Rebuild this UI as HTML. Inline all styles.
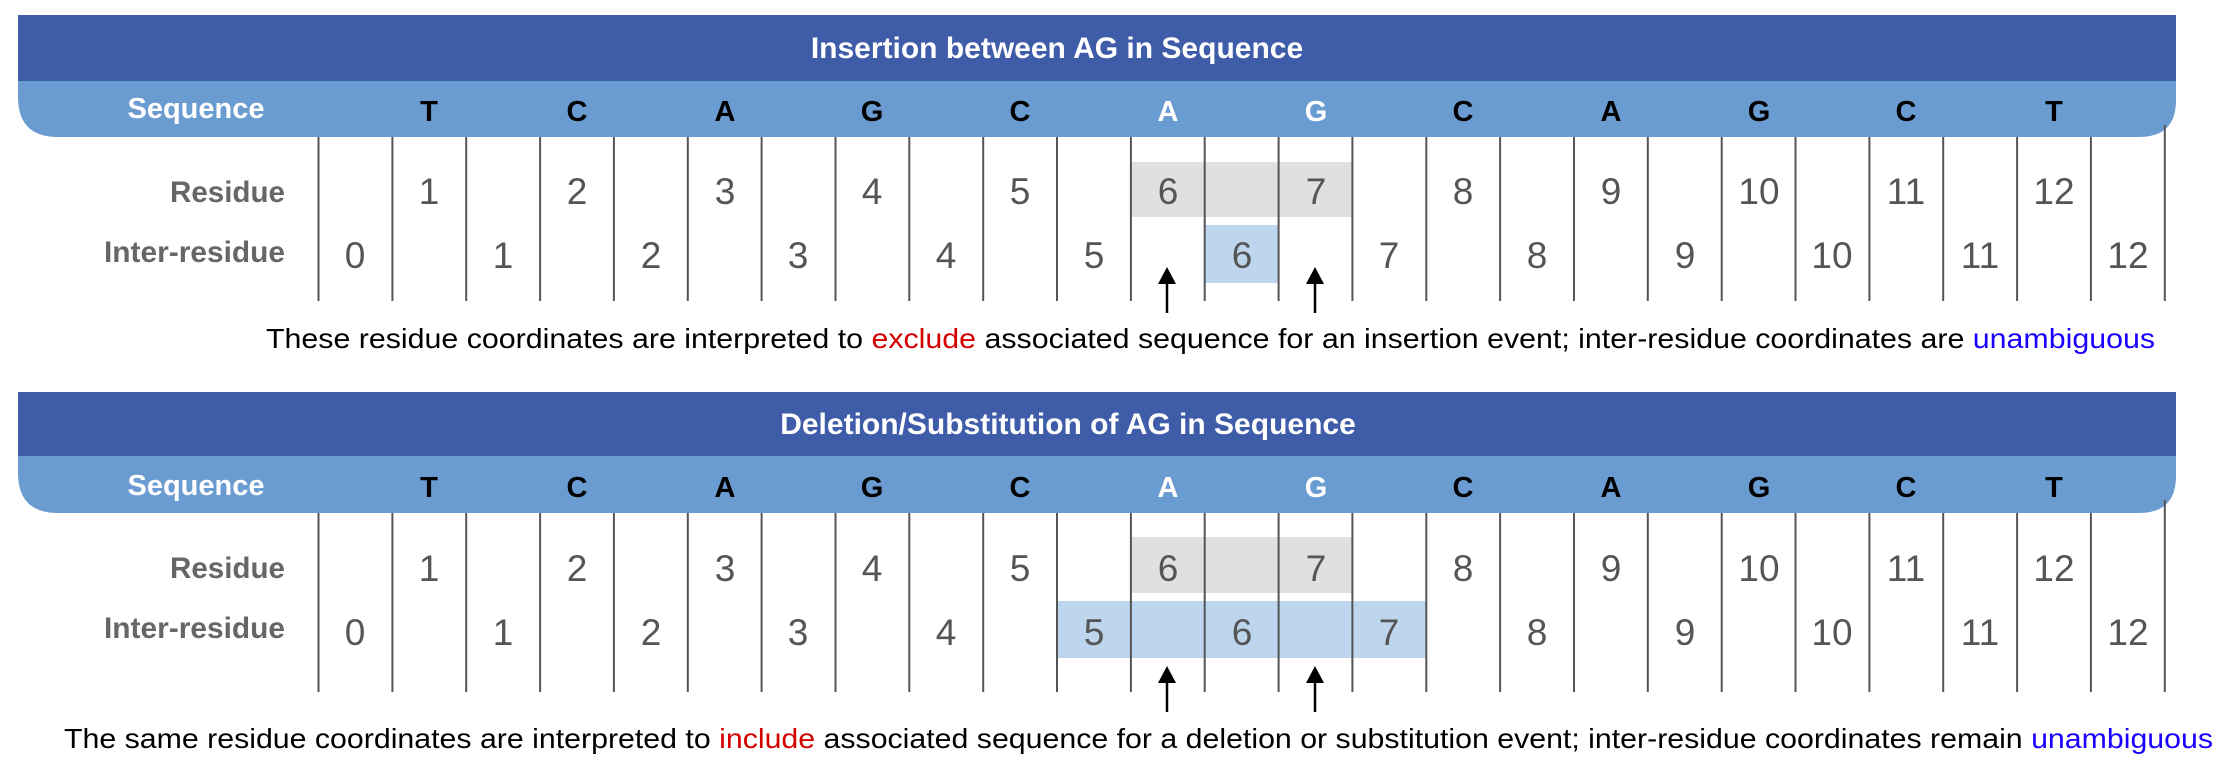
<!DOCTYPE html>
<html><head><meta charset="utf-8"><style>
html,body{margin:0;padding:0;background:#fff;}
svg{display:block;}
text{font-family:"Liberation Sans",Arial,sans-serif;}
</style></head><body>
<svg width="2220" height="780" viewBox="0 0 2220 780" xmlns="http://www.w3.org/2000/svg">
<defs>
<g id="arr"><line x1="0" y1="14" x2="0" y2="46" stroke="#000" stroke-width="2.5"/><polygon points="0,0 -9,17 9,17" fill="#000"/></g>
</defs>

<!-- ============ PANEL 1 ============ -->
<rect x="18" y="15" width="2158" height="67" fill="#3e5ca8"/>
<path d="M18 81 H2176 V100 Q2176 137 2139 137 H58 Q18 137 18 97 Z" fill="#6a9bd1"/>
<text x="1057" y="58" font-size="30" font-weight="bold" fill="#fff" text-anchor="middle">Insertion between AG in Sequence</text>
<text x="196" y="118" font-size="29" font-weight="bold" fill="#fff" text-anchor="middle">Sequence</text>
<g font-size="29" font-weight="bold" text-anchor="middle" fill="#000">
<text x="429" y="121">T</text><text x="577" y="121">C</text><text x="725" y="121">A</text><text x="872" y="121">G</text><text x="1020" y="121">C</text><text x="1168" y="121" fill="#fff">A</text><text x="1316" y="121" fill="#fff">G</text><text x="1463" y="121">C</text><text x="1611" y="121">A</text><text x="1759" y="121">G</text><text x="1906" y="121">C</text><text x="2054" y="121">T</text>
</g>
<rect x="1131" y="162" width="222" height="55" fill="#e0e0e0"/>
<rect x="1205" y="225" width="74" height="58" fill="#bdd6ed"/>
<g stroke="#555" stroke-width="2">
<line x1="318.5" y1="137" x2="318.5" y2="301"/><line x1="392.4" y1="137" x2="392.4" y2="301"/><line x1="466.2" y1="137" x2="466.2" y2="301"/><line x1="540.1" y1="137" x2="540.1" y2="301"/><line x1="613.9" y1="137" x2="613.9" y2="301"/><line x1="687.8" y1="137" x2="687.8" y2="301"/><line x1="761.6" y1="137" x2="761.6" y2="301"/><line x1="835.5" y1="137" x2="835.5" y2="301"/><line x1="909.3" y1="137" x2="909.3" y2="301"/><line x1="983.2" y1="137" x2="983.2" y2="301"/><line x1="1057" y1="137" x2="1057" y2="301"/><line x1="1130.9" y1="137" x2="1130.9" y2="301"/><line x1="1204.7" y1="137" x2="1204.7" y2="301"/><line x1="1278.6" y1="137" x2="1278.6" y2="301"/><line x1="1352.4" y1="137" x2="1352.4" y2="301"/><line x1="1426.3" y1="137" x2="1426.3" y2="301"/><line x1="1500.1" y1="137" x2="1500.1" y2="301"/><line x1="1574" y1="137" x2="1574" y2="301"/><line x1="1647.8" y1="137" x2="1647.8" y2="301"/><line x1="1721.7" y1="137" x2="1721.7" y2="301"/><line x1="1795.5" y1="137" x2="1795.5" y2="301"/><line x1="1869.4" y1="137" x2="1869.4" y2="301"/><line x1="1943.2" y1="137" x2="1943.2" y2="301"/><line x1="2017.1" y1="137" x2="2017.1" y2="301"/><line x1="2090.9" y1="137" x2="2090.9" y2="301"/><line x1="2164.8" y1="125" x2="2164.8" y2="301"/>
</g>
<text x="285" y="202" font-size="30" font-weight="bold" fill="#666" text-anchor="end" textLength="115" lengthAdjust="spacingAndGlyphs">Residue</text>
<text x="285" y="262" font-size="30" font-weight="bold" fill="#666" text-anchor="end" textLength="181" lengthAdjust="spacingAndGlyphs">Inter-residue</text>
<g font-size="37" fill="#555" text-anchor="middle">
<text x="429" y="204">1</text><text x="577" y="204">2</text><text x="725" y="204">3</text><text x="872" y="204">4</text><text x="1020" y="204">5</text><text x="1168" y="204">6</text><text x="1316" y="204">7</text><text x="1463" y="204">8</text><text x="1611" y="204">9</text><text x="1759" y="204">10</text><text x="1906" y="204">11</text><text x="2054" y="204">12</text>
<text x="355" y="268">0</text><text x="503" y="268">1</text><text x="651" y="268">2</text><text x="798" y="268">3</text><text x="946" y="268">4</text><text x="1094" y="268">5</text><text x="1242" y="268">6</text><text x="1389" y="268">7</text><text x="1537" y="268">8</text><text x="1685" y="268">9</text><text x="1832" y="268">10</text><text x="1980" y="268">11</text><text x="2128" y="268">12</text>
</g>
<use href="#arr" x="1167" y="267"/><use href="#arr" x="1315" y="267"/>
<text x="266" y="348" font-size="28" fill="#000" textLength="1889" lengthAdjust="spacingAndGlyphs">These residue coordinates are interpreted to <tspan fill="#d40000">exclude</tspan> associated sequence for an insertion event; inter-residue coordinates are <tspan fill="#1a00ff">unambiguous</tspan></text>

<!-- ============ PANEL 2 ============ -->
<rect x="18" y="392" width="2158" height="65" fill="#3e5ca8"/>
<path d="M18 456 H2176 V476 Q2176 513 2139 513 H58 Q18 513 18 473 Z" fill="#6a9bd1"/>
<text x="1068" y="434" font-size="30" font-weight="bold" fill="#fff" text-anchor="middle">Deletion/Substitution of AG in Sequence</text>
<text x="196" y="495" font-size="29" font-weight="bold" fill="#fff" text-anchor="middle">Sequence</text>
<g font-size="29" font-weight="bold" text-anchor="middle" fill="#000">
<text x="429" y="497">T</text><text x="577" y="497">C</text><text x="725" y="497">A</text><text x="872" y="497">G</text><text x="1020" y="497">C</text><text x="1168" y="497" fill="#fff">A</text><text x="1316" y="497" fill="#fff">G</text><text x="1463" y="497">C</text><text x="1611" y="497">A</text><text x="1759" y="497">G</text><text x="1906" y="497">C</text><text x="2054" y="497">T</text>
</g>
<rect x="1131" y="537" width="222" height="56" fill="#e0e0e0"/>
<rect x="1057" y="601" width="369" height="57" fill="#bdd6ed"/>
<g stroke="#555" stroke-width="2">
<line x1="318.5" y1="513" x2="318.5" y2="692"/><line x1="392.4" y1="513" x2="392.4" y2="692"/><line x1="466.2" y1="513" x2="466.2" y2="692"/><line x1="540.1" y1="513" x2="540.1" y2="692"/><line x1="613.9" y1="513" x2="613.9" y2="692"/><line x1="687.8" y1="513" x2="687.8" y2="692"/><line x1="761.6" y1="513" x2="761.6" y2="692"/><line x1="835.5" y1="513" x2="835.5" y2="692"/><line x1="909.3" y1="513" x2="909.3" y2="692"/><line x1="983.2" y1="513" x2="983.2" y2="692"/><line x1="1057" y1="513" x2="1057" y2="692"/><line x1="1130.9" y1="513" x2="1130.9" y2="692"/><line x1="1204.7" y1="513" x2="1204.7" y2="692"/><line x1="1278.6" y1="513" x2="1278.6" y2="692"/><line x1="1352.4" y1="513" x2="1352.4" y2="692"/><line x1="1426.3" y1="513" x2="1426.3" y2="692"/><line x1="1500.1" y1="513" x2="1500.1" y2="692"/><line x1="1574" y1="513" x2="1574" y2="692"/><line x1="1647.8" y1="513" x2="1647.8" y2="692"/><line x1="1721.7" y1="513" x2="1721.7" y2="692"/><line x1="1795.5" y1="513" x2="1795.5" y2="692"/><line x1="1869.4" y1="513" x2="1869.4" y2="692"/><line x1="1943.2" y1="513" x2="1943.2" y2="692"/><line x1="2017.1" y1="513" x2="2017.1" y2="692"/><line x1="2090.9" y1="513" x2="2090.9" y2="692"/><line x1="2164.8" y1="500" x2="2164.8" y2="692"/>
</g>
<text x="285" y="578" font-size="30" font-weight="bold" fill="#666" text-anchor="end" textLength="115" lengthAdjust="spacingAndGlyphs">Residue</text>
<text x="285" y="638" font-size="30" font-weight="bold" fill="#666" text-anchor="end" textLength="181" lengthAdjust="spacingAndGlyphs">Inter-residue</text>
<g font-size="37" fill="#555" text-anchor="middle">
<text x="429" y="581">1</text><text x="577" y="581">2</text><text x="725" y="581">3</text><text x="872" y="581">4</text><text x="1020" y="581">5</text><text x="1168" y="581">6</text><text x="1316" y="581">7</text><text x="1463" y="581">8</text><text x="1611" y="581">9</text><text x="1759" y="581">10</text><text x="1906" y="581">11</text><text x="2054" y="581">12</text>
<text x="355" y="645">0</text><text x="503" y="645">1</text><text x="651" y="645">2</text><text x="798" y="645">3</text><text x="946" y="645">4</text><text x="1094" y="645">5</text><text x="1242" y="645">6</text><text x="1389" y="645">7</text><text x="1537" y="645">8</text><text x="1685" y="645">9</text><text x="1832" y="645">10</text><text x="1980" y="645">11</text><text x="2128" y="645">12</text>
</g>
<use href="#arr" x="1167" y="666"/><use href="#arr" x="1315" y="666"/>
<text x="64" y="748" font-size="28" fill="#000" textLength="2149" lengthAdjust="spacingAndGlyphs">The same residue coordinates are interpreted to <tspan fill="#d40000">include</tspan> associated sequence for a deletion or substitution event; inter-residue coordinates remain <tspan fill="#1a00ff">unambiguous</tspan></text>
</svg>
</body></html>
